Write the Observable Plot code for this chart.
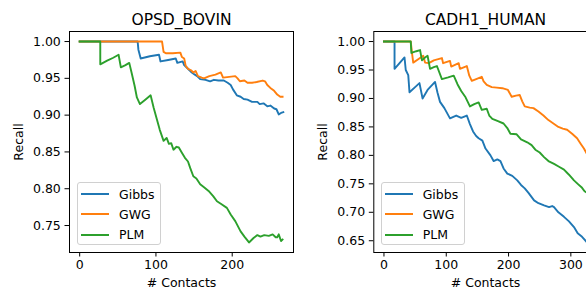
<!DOCTYPE html>
<html><head><meta charset="utf-8">
<script src="https://cdn.jsdelivr.net/npm/d3@7"></script>
<script src="https://cdn.jsdelivr.net/npm/@observablehq/plot@0.6"></script>
<style>
html,body{margin:0;padding:0;background:#fff;overflow:hidden;width:586px;height:291px;}
#wrap{position:relative;width:586px;height:291px;overflow:hidden;font-family:"DejaVu Sans",sans-serif;color:#000;}
.panel{position:absolute;top:0;height:291px;}
.panel svg{overflow:visible;max-width:none !important;height:291px !important;}
.legend{position:absolute;background:rgba(255,255,255,0.8);border:1px solid #d0d0d0;border-radius:3px;box-sizing:border-box;font-size:12.5px;color:#000;}
.legend .row{position:absolute;left:0;height:20px;display:flex;align-items:center;white-space:nowrap;}
.legend .sw{display:inline-block;width:28px;height:2px;margin-left:3px;margin-right:10px;}
</style>
</head><body>
<div id="wrap"></div>
<script>
// ---- data ----
const methods = ["Gibbs", "GWG", "PLM"];
const methodColors = ["#1f77b4", "#ff7f0e", "#2ca02c"];

const opsdGibbs = [[0,1.0],[76,1.0],[77,0.989],[80,0.977],[92,0.980],[104,0.982],[106,0.973],[116,0.975],[126,0.977],[128,0.971],[135,0.973],[137,0.968],[140,0.965],[144,0.961],[147,0.958],[151,0.955],[154,0.953],[158,0.949],[165,0.948],[171,0.946],[176,0.948],[182,0.947],[189,0.947],[194,0.944],[198,0.941],[201,0.935],[206,0.927],[211,0.925],[215,0.922],[220,0.921],[226,0.918],[233,0.918],[236,0.915],[241,0.916],[246,0.912],[250,0.913],[255,0.909],[258,0.908],[261,0.901],[264,0.903],[267,0.904]];
const opsdGwg = [[0,1.0],[108,1.0],[110,0.986],[113,0.984],[122,0.984],[132,0.985],[134,0.979],[137,0.977],[139,0.967],[142,0.963],[146,0.961],[149,0.958],[152,0.960],[155,0.953],[160,0.951],[163,0.950],[170,0.953],[178,0.955],[185,0.958],[188,0.951],[196,0.952],[204,0.953],[207,0.950],[210,0.946],[216,0.947],[220,0.944],[226,0.944],[232,0.945],[240,0.947],[243,0.946],[246,0.941],[250,0.937],[255,0.933],[259,0.928],[263,0.925],[266,0.925]];
const opsdPlm = [[0,1.0],[27,1.0],[27,0.969],[36,0.974],[44,0.978],[51,0.982],[54,0.965],[60,0.968],[65,0.971],[68,0.958],[72,0.940],[75,0.924],[79,0.915],[86,0.921],[93,0.927],[97,0.910],[101,0.895],[105,0.880],[110,0.865],[114,0.869],[117,0.861],[120,0.862],[123,0.853],[127,0.857],[130,0.856],[134,0.849],[138,0.842],[142,0.837],[145,0.828],[149,0.817],[153,0.814],[158,0.806],[163,0.802],[169,0.797],[175,0.790],[180,0.783],[186,0.779],[193,0.774],[198,0.765],[204,0.756],[211,0.742],[216,0.735],[222,0.727],[228,0.733],[233,0.737],[237,0.735],[242,0.737],[248,0.736],[253,0.738],[257,0.734],[259,0.734],[261,0.738],[264,0.729],[266,0.731]];

const cadhGibbs = [[0,1.0],[17,1.0],[17,0.952],[25,0.962],[33,0.972],[35,0.950],[39,0.941],[41,0.911],[50,0.920],[57,0.927],[62,0.900],[70,0.915],[82,0.929],[86,0.910],[90,0.894],[97,0.883],[106,0.865],[116,0.870],[124,0.866],[133,0.870],[138,0.855],[143,0.842],[148,0.834],[152,0.830],[158,0.826],[163,0.812],[171,0.800],[176,0.790],[182,0.793],[187,0.790],[192,0.777],[198,0.768],[206,0.764],[214,0.756],[220,0.748],[226,0.742],[232,0.734],[241,0.721],[248,0.716],[257,0.712],[265,0.709],[270,0.711],[273,0.709],[280,0.700],[289,0.692],[297,0.684],[305,0.674],[311,0.663],[318,0.657],[322,0.652],[326,0.647]];
const cadhGwg = [[0,1.0],[43,1.0],[45,0.980],[47,0.963],[55,0.969],[63,0.975],[66,0.963],[72,0.962],[80,0.967],[93,0.971],[95,0.962],[106,0.966],[108,0.956],[120,0.962],[122,0.952],[133,0.957],[137,0.940],[141,0.931],[150,0.935],[157,0.938],[160,0.930],[165,0.924],[173,0.920],[181,0.919],[190,0.918],[199,0.915],[205,0.903],[212,0.905],[218,0.906],[222,0.895],[226,0.886],[234,0.884],[240,0.883],[248,0.877],[256,0.870],[264,0.862],[272,0.856],[280,0.850],[287,0.847],[294,0.845],[302,0.838],[310,0.830],[316,0.820],[321,0.812],[326,0.802]];
const cadhPlm = [[0,1.0],[43,1.0],[44,0.980],[52,0.983],[58,0.985],[61,0.967],[66,0.972],[70,0.975],[74,0.952],[80,0.955],[85,0.957],[93,0.934],[103,0.937],[112,0.940],[118,0.925],[124,0.913],[131,0.902],[138,0.886],[145,0.890],[152,0.893],[157,0.880],[165,0.882],[169,0.870],[174,0.864],[183,0.860],[192,0.856],[198,0.848],[203,0.838],[213,0.837],[220,0.828],[230,0.823],[237,0.818],[243,0.810],[250,0.805],[257,0.797],[264,0.790],[273,0.785],[281,0.780],[289,0.775],[297,0.766],[305,0.756],[311,0.750],[318,0.743],[322,0.737],[326,0.734]];

const opsdXTicks = [0, 100, 200];
const opsdYTicks = [0.75, 0.80, 0.85, 0.90, 0.95, 1.00];
const cadhXTicks = [0, 100, 200, 300];
const cadhYTicks = [0.65, 0.70, 0.75, 0.80, 0.85, 0.90, 0.95, 1.00];

const titles = ["OPSD_BOVIN", "CADH1_HUMAN"];
const xLabel = "# Contacts";
const yLabel = "Recall";

// ---- layout ----
const panels = [
  {title: titles[0], series: [opsdGibbs, opsdGwg, opsdPlm], xTicks: opsdXTicks, yTicks: opsdYTicks,
   left: 0, width: 300, mL: 69, mR: 7, legend: {left: 77, top: 182}},
  {title: titles[1], series: [cadhGibbs, cadhGwg, cadhPlm], xTicks: cadhXTicks, yTicks: cadhYTicks,
   left: 300, width: 310, mL: 73.3, mR: 13.3, legend: {left: 380.7, top: 182}}
];

function padded(ext) { const d = (ext[1] - ext[0]) * 0.05; return [ext[0] - d, ext[1] + d]; }

const wrap = document.getElementById("wrap");
const fontFamily = '"DejaVu Sans", sans-serif';

panels.forEach(p => {
  const rows = p.series.flatMap((pts, i) => pts.map(([x, y]) => ({x, y, method: methods[i]})));
  const xDom = padded(d3.extent(rows, d => d.x));
  const yDom = padded(d3.extent(rows, d => d.y));
  const chart = Plot.plot({
    width: p.width, height: 291,
    marginLeft: p.mL, marginRight: p.mR, marginTop: 31, marginBottom: 39,
    style: {fontFamily, fontSize: "12.5px", color: "#000", background: "transparent", overflow: "visible"},
    x: {domain: xDom, label: null},
    y: {domain: yDom, label: null},
    color: {domain: methods, range: methodColors},
    marks: [
      Plot.line(rows, {x: "x", y: "y", stroke: "method", z: "method", strokeWidth: 1.9, strokeLinejoin: "round", strokeLinecap: "square"}),
      Plot.frame({stroke: "#000", strokeWidth: 1}),
      Plot.axisX({ticks: p.xTicks, tickFormat: d3.format("d"), tickSize: 4.5, tickPadding: 3.5, fontSize: 12.5, label: null, stroke: "#000"}),
      Plot.axisY({ticks: p.yTicks, tickFormat: d3.format(".2f"), tickSize: 4.5, tickPadding: 4.2, fontSize: 12.5, label: null, stroke: "#000"}),
      Plot.text([p.title], {frameAnchor: "top", dy: -7, lineAnchor: "bottom", fontSize: 15.5, fill: "#000"}),
      Plot.text([xLabel], {frameAnchor: "bottom", dy: 26, lineAnchor: "top", fontSize: 12.5, fill: "#000"}),
      Plot.text([yLabel], {frameAnchor: "left", dx: -51, rotate: -90, textAnchor: "middle", lineAnchor: "middle", fontSize: 12.5, fill: "#000"})
    ]
  });
  const holder = document.createElement("div");
  holder.className = "panel";
  holder.style.left = p.left + "px";
  holder.style.width = p.width + "px";
  holder.appendChild(chart);
  wrap.appendChild(holder);

  // legend
  const lg = document.createElement("div");
  lg.className = "legend";
  lg.style.left = p.legend.left + "px";
  lg.style.top = p.legend.top + "px";
  lg.style.width = "84px";
  lg.style.height = "63px";
  methods.forEach((m, i) => {
    const r = document.createElement("div");
    r.className = "row";
    r.style.top = (1 + i * 20.3) + "px";
    const sw = document.createElement("span");
    sw.className = "sw";
    sw.style.background = methodColors[i];
    r.appendChild(sw);
    r.appendChild(document.createTextNode(m));
    lg.appendChild(r);
  });
  wrap.appendChild(lg);
});
</script>
</body></html>
